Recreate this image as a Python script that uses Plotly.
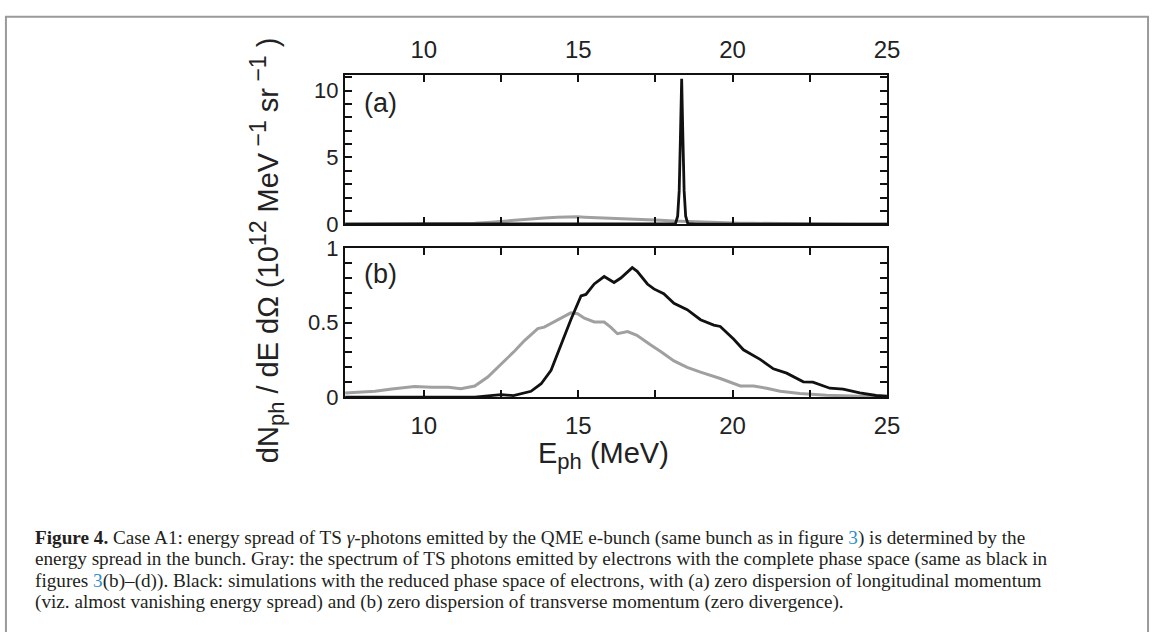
import plotly.graph_objects as go

# ---------------- data ----------------
# Gray: full phase space spectrum (same in both panels)
gray_E = [7.45, 8.0, 8.42, 8.96, 9.4, 9.7, 10.25, 10.8, 11.2, 11.65, 12.07, 12.5, 12.94, 13.26,
          13.69, 13.9, 14.33, 14.76, 14.98, 15.2, 15.52, 15.84, 16.05, 16.27, 16.6, 16.9, 17.35,
          17.67, 18.1, 18.53, 18.96, 19.6, 20.25, 20.68, 21.1, 21.54, 22.18, 23.04, 24.1, 25.0]
gray_V = [0.028, 0.032, 0.04, 0.054, 0.062, 0.071, 0.067, 0.066, 0.056, 0.075, 0.135, 0.22, 0.31, 0.38,
          0.46, 0.47, 0.52, 0.566, 0.56, 0.53, 0.505, 0.505, 0.47, 0.426, 0.44, 0.415, 0.35,
          0.307, 0.243, 0.2, 0.168, 0.125, 0.075, 0.075, 0.06, 0.039, 0.024, 0.013, 0.006, 0.002]

# Black (a): zero longitudinal momentum dispersion -> narrow peak
blackA_E = [7.45, 12.0, 17.9, 18.15, 18.22, 18.27, 18.31, 18.35, 18.39, 18.43, 18.48, 18.55, 18.8, 25.0]
blackA_V = [0.0, 0.0, 0.0, 0.05, 0.6, 2.5, 6.5, 10.9, 6.5, 2.5, 0.6, 0.05, 0.0, 0.0]

# Black (b): zero transverse momentum dispersion
blackB_E = [7.45, 11.65, 12.5, 12.9, 13.47, 13.8, 14.12, 14.44, 14.76, 15.09, 15.25, 15.52, 15.84,
            16.16, 16.38, 16.75, 16.91, 17.24, 17.45, 17.77, 18.1, 18.53, 18.96, 19.39, 19.6, 20.03,
            20.35, 20.89, 21.32, 21.75, 22.29, 22.6, 23.15, 23.58, 24.12, 24.65, 25.0]
blackB_V = [0.0, 0.0, 0.017, 0.01, 0.039, 0.09, 0.18, 0.35, 0.52, 0.68, 0.69, 0.76, 0.81,
            0.77, 0.80, 0.87, 0.845, 0.76, 0.727, 0.695, 0.63, 0.587, 0.52, 0.484, 0.475, 0.39,
            0.318, 0.254, 0.19, 0.161, 0.103, 0.101, 0.06, 0.054, 0.028, 0.011, 0.006]

x_tickvals = [10, 12.5, 15, 17.5, 20, 22.5, 25]
x_ticktext = ["10", "", "15", "", "20", "", "25"]
ya_tickvals = list(range(0, 12))
ya_ticktext = ["0", "", "", "", "", "5", "", "", "", "", "10", ""]
yb_tickvals = [i / 10 for i in range(0, 11)]
yb_ticktext = ["0", "", "", "", "", "0.5", "", "", "", "", "1"]

caption_lines = [
    "<b>Figure 4.</b> Case A1: energy spread of TS <i>γ</i>-photons emitted by the QME e-bunch (same bunch as in figure <span style='color:#2b8fc7'>3</span>) is determined by the",
    "energy spread in the bunch. Gray: the spectrum of TS photons emitted by electrons with the complete phase space (same as black in",
    "figures <span style='color:#2b8fc7'>3</span>(b)–(d)). Black: simulations with the reduced phase space of electrons, with (a) zero dispersion of longitudinal momentum",
    "(viz. almost vanishing energy spread) and (b) zero dispersion of transverse momentum (zero divergence).",
]

W, H = 1165, 632
GRAY = "#a0a0a0"
BLACK = "#111111"
SANS = "Liberation Sans, Arial, sans-serif"

fig = go.Figure()
fig.add_trace(go.Scatter(x=gray_E, y=gray_V, mode="lines", line=dict(color=GRAY, width=3),
                         xaxis="x", yaxis="y", showlegend=False))
fig.add_trace(go.Scatter(x=blackA_E, y=blackA_V, mode="lines", line=dict(color=BLACK, width=2.8),
                         xaxis="x", yaxis="y", showlegend=False))
fig.add_trace(go.Scatter(x=gray_E, y=gray_V, mode="lines", line=dict(color=GRAY, width=3),
                         xaxis="x2", yaxis="y2", showlegend=False))
fig.add_trace(go.Scatter(x=blackB_E, y=blackB_V, mode="lines", line=dict(color=BLACK, width=2.8),
                         xaxis="x2", yaxis="y2", showlegend=False))

x0p, x1p = 349 / W, 897 / W
ya_dom = [1 - 221 / H, 1 - 66 / H]
yb_dom = [1 - 401 / H, 1 - 246 / H]

xfont = dict(family=SANS, size=24, color="#222")
yfont = dict(family=SANS, size=22, color="#222")
common_x = dict(range=[7.45, 25], tickvals=x_tickvals, ticktext=x_ticktext, ticks="inside",
                ticklen=7, tickwidth=1.5, tickcolor="#111", showline=True, linewidth=2.2,
                linecolor="#111", mirror="allticks", showgrid=False, zeroline=False,
                tickfont=xfont, domain=[x0p, x1p], ticklabelstandoff=6)
common_y = dict(ticks="inside", ticklen=7, tickwidth=1.5, tickcolor="#111", showline=True,
                linewidth=2.2, linecolor="#111", mirror="allticks", showgrid=False,
                zeroline=False, tickfont=yfont)

fig.update_layout(
    width=W, height=H,
    margin=dict(l=0, r=0, t=0, b=0),
    paper_bgcolor="white", plot_bgcolor="white",
    xaxis=dict(common_x, anchor="y", side="top"),
    yaxis=dict(common_y, range=[0, 11.15], tickvals=ya_tickvals, ticktext=ya_ticktext,
               domain=ya_dom, anchor="x"),
    xaxis2=dict(common_x, anchor="y2", side="bottom"),
    yaxis2=dict(common_y, range=[0, 1], tickvals=yb_tickvals, ticktext=yb_ticktext,
                domain=yb_dom, anchor="x2"),
)

# panel labels
fig.add_annotation(text="(a)", x=8.0, y=(221 - 95) / 13.9, xref="x", yref="y", showarrow=False,
                   xanchor="left", yanchor="middle", font=dict(family=SANS, size=27, color="#222"))
fig.add_annotation(text="(b)", x=8.0, y=(401 - 273) / 155, xref="x2", yref="y2", showarrow=False,
                   xanchor="left", yanchor="middle", font=dict(family=SANS, size=27, color="#222"))

# axis titles
SUP = "<sup><span style='font-size:23px'>{}</span></sup>"
SUB = "<sub><span style='font-size:22px'>{}</span></sub>"
ytitle = ("dN" + SUB.format("ph") + " / dE dΩ (10" + SUP.format("12") + " MeV" + SUP.format(" −1")
          + " sr" + SUP.format(" −1") + " )")
fig.add_annotation(text=ytitle, x=270 / W, y=1 - 248 / H, xref="paper", yref="paper", showarrow=False,
                   textangle=-90, xanchor="center", yanchor="middle",
                   font=dict(family=SANS, size=29, color="#222"))
fig.add_annotation(text="E" + SUB.format("ph") + " (MeV)", x=610 / W, y=1 - 462 / H, xref="paper",
                   yref="paper", showarrow=False, xanchor="center", yanchor="middle",
                   font=dict(family=SANS, size=29, color="#222"))

# caption
for i, line in enumerate(caption_lines):
    fig.add_annotation(text=line, x=33 / W, y=1 - (561 + 22.3 * i) / H, xref="paper", yref="paper",
                       showarrow=False, xanchor="left", yanchor="bottom", align="left",
                       font=dict(family="Liberation Serif, Times New Roman, serif", size=19.2,
                                 color="#231f20"))

# outer frame
fig.add_shape(type="rect", xref="paper", yref="paper", x0=6 / W, x1=1161 / W, y0=-0.05, y1=1 - 5 / H,
              line=dict(color="#9a9a9a", width=2), fillcolor="rgba(0,0,0,0)")

fig.write_html("out.html")
